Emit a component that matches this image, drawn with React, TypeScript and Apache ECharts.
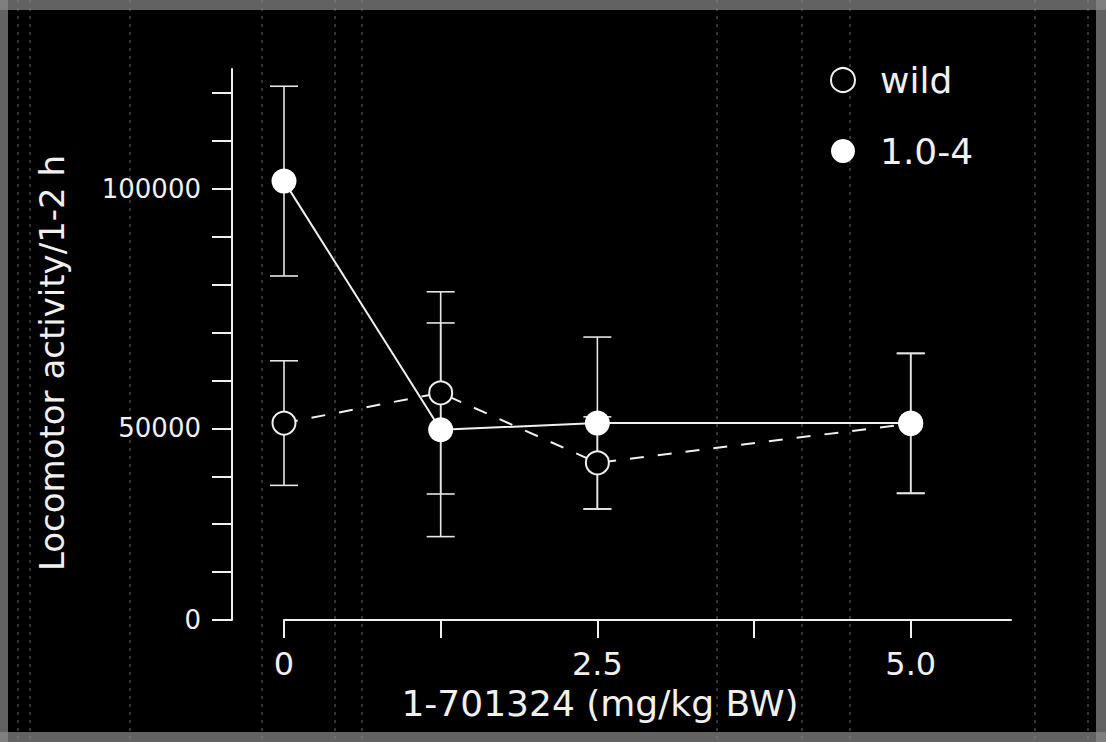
import React, { useEffect, useRef } from "react";
import * as echarts from "echarts";

// Dose of 1-701324 (mg/kg BW)
const doses = [0, 1.25, 2.5, 5.0];
// Locomotor activity / 1-2 h, mean and error
const mutantMean = [101600, 49700, 51100, 51100];
const mutantErr = [19800, 22300, 17950, 14600];
const wildMean = [51100, 57400, 42800, 51000];
const wildErr = [13000, 21100, 9600, 14600];

const xTickValues = [0, 1.25, 2.5, 3.75, 5.0];
const xLabelValues = [0, 2.5, 5.0];
const xLabelTexts = ["0", "2.5", "5.0"];
const yTickValues = [10000, 20000, 30000, 40000, 50000, 60000, 70000, 80000, 90000, 100000, 110000, 120000];
const yLabelValues = [10000, 50000, 100000];
const yLabelTexts = ["0", "50000", "100000"];

const scanLinesX = [18, 30, 130, 262, 335, 362, 717, 802, 850, 1035, 1088];

const FONT = "DejaVu Sans";

export default function App() {
  const ref = useRef<HTMLDivElement>(null);

  useEffect(() => {
    document.body.style.margin = "0";
    document.body.style.background = "#000";
    const chart = echarts.init(ref.current!, null, { renderer: "svg" });

    const errData = (means: number[], errs: number[]) =>
      doses.map((d, i) => [d, means[i] - errs[i], means[i] + errs[i]]);

    const renderErr = (params: any, api: any) => {
      const x = api.value(0);
      const lo = api.coord([x, api.value(1)]);
      const hi = api.coord([x, api.value(2)]);
      const hw = 14;
      const style = { stroke: "#e6e6e6", lineWidth: 1.6 };
      return {
        type: "group",
        children: [
          { type: "line", shape: { x1: lo[0], y1: lo[1], x2: hi[0], y2: hi[1] }, style },
          { type: "line", shape: { x1: lo[0] - hw, y1: lo[1], x2: lo[0] + hw, y2: lo[1] }, style },
          { type: "line", shape: { x1: hi[0] - hw, y1: hi[1], x2: hi[0] + hw, y2: hi[1] }, style },
        ],
      };
    };

    const scanGraphics: any[] = scanLinesX.map((x) => ({
      type: "line",
      silent: true,
      z: -1,
      shape: { x1: x, y1: 0, x2: x, y2: 742 },
      style: { stroke: "#9a9a9a", lineWidth: 1.5, lineDash: [3, 5], opacity: 0.45 },
    }));

    chart.setOption({
      animation: false,
      backgroundColor: "#000",
      grid: { left: 284, right: 95, top: 69, bottom: 122 },
      xAxis: {
        type: "value",
        min: 0,
        max: 5.8,
        interval: 1.25,
        axisLine: { show: true, onZero: false, lineStyle: { color: "#f0f0f0", width: 2 } },
        axisTick: {
          show: true,
          length: 18,
          customValues: xTickValues,
          lineStyle: { color: "#f0f0f0", width: 2 },
        },
        axisLabel: {
          customValues: xLabelValues,
          color: "#f0f0f0",
          fontSize: 32,
          fontFamily: FONT,
          margin: 28,
          formatter: (v: number) => {
            const i = xLabelValues.indexOf(v);
            return i >= 0 ? xLabelTexts[i] : "";
          },
        },
        splitLine: { show: false },
      },
      yAxis: {
        type: "value",
        min: 10000,
        max: 125000,
        interval: 10000,
        offset: 52,
        axisLine: { show: true, onZero: false, lineStyle: { color: "#f0f0f0", width: 2 } },
        axisTick: {
          show: true,
          length: 20,
          customValues: yTickValues,
          lineStyle: { color: "#f0f0f0", width: 2 },
        },
        axisLabel: {
          customValues: yLabelValues,
          color: "#f0f0f0",
          fontSize: 26,
          fontFamily: FONT,
          margin: 31,
          formatter: (v: number) => {
            const i = yLabelValues.indexOf(v);
            return i >= 0 ? yLabelTexts[i] : "";
          },
        },
        splitLine: { show: false },
      },
      legend: {
        orient: "vertical",
        left: 825,
        top: 55,
        itemWidth: 24,
        itemHeight: 24,
        itemGap: 31,
        textStyle: {
          color: "#f0f0f0",
          fontSize: 36,
          fontFamily: FONT,
          lineHeight: 40,
          padding: [0, 0, 0, 20],
        },
        data: [
          { name: "wild", icon: "circle", itemStyle: { color: "#000", borderColor: "#f0f0f0", borderWidth: 2 } },
          { name: "1.0-4", icon: "circle", itemStyle: { color: "#fff", borderWidth: 0 } },
        ],
      },
      graphic: [
        ...scanGraphics,
        {
          type: "text",
          x: 52,
          y: 363,
          rotation: Math.PI / 2,
          style: {
            text: "Locomotor activity/1-2 h",
            fill: "#f0f0f0",
            font: `34px "${FONT}"`,
            textAlign: "center",
            textVerticalAlign: "middle",
          },
        },
        {
          type: "text",
          x: 600,
          y: 703,
          style: {
            text: "1-701324 (mg/kg BW)",
            fill: "#f0f0f0",
            font: `36px "${FONT}"`,
            textAlign: "center",
            textVerticalAlign: "middle",
          },
        },
        { type: "rect", silent: true, shape: { x: 0, y: 0, width: 1106, height: 10 }, style: { fill: "#8c8c8c", opacity: 0.7 } },
        { type: "rect", silent: true, shape: { x: 0, y: 732, width: 1106, height: 10 }, style: { fill: "#8c8c8c", opacity: 0.7 } },
        { type: "rect", silent: true, shape: { x: 0, y: 0, width: 8, height: 742 }, style: { fill: "#8c8c8c", opacity: 0.7 } },
        { type: "rect", silent: true, shape: { x: 1096, y: 0, width: 10, height: 742 }, style: { fill: "#8c8c8c", opacity: 0.7 } },
      ],
      series: [
        {
          name: "wild-err",
          type: "custom",
          z: 1,
          renderItem: renderErr,
          data: errData(wildMean, wildErr),
          silent: true,
        },
        {
          name: "1.0-4-err",
          type: "custom",
          z: 1,
          renderItem: renderErr,
          data: errData(mutantMean, mutantErr),
          silent: true,
        },
        {
          name: "wild",
          type: "line",
          z: 3,
          data: doses.map((d, i) => [d, wildMean[i]]),
          symbol: "circle",
          symbolSize: 23,
          lineStyle: { color: "#f0f0f0", width: 2, type: [14, 14] },
          itemStyle: { color: "#000", borderColor: "#f0f0f0", borderWidth: 2 },
        },
        {
          name: "1.0-4",
          type: "line",
          z: 4,
          data: doses.map((d, i) => [d, mutantMean[i]]),
          symbol: "circle",
          symbolSize: 25,
          lineStyle: { color: "#f0f0f0", width: 2 },
          itemStyle: { color: "#fff", borderWidth: 0 },
        },
      ],
    });

    return () => chart.dispose();
  }, []);

  return <div ref={ref} style={{ width: 1106, height: 742 }} />;
}
